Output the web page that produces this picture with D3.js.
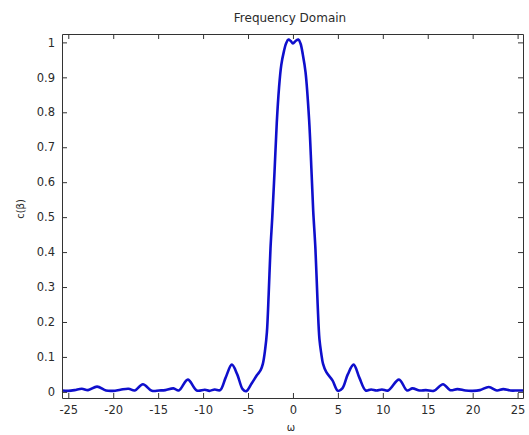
<!DOCTYPE html>
<html>
<head>
<meta charset="utf-8">
<script src="https://cdn.jsdelivr.net/npm/d3@7"></script>
<style>
  html, body { margin: 0; padding: 0; background: #fff; }
  svg { display: block; font-family: "DejaVu Sans", sans-serif; }
  .axis text { fill: #2b2b2b; font-size: 11.5px; font-family: "DejaVu Sans", sans-serif; }
</style>
</head>
<body>
<div id="chart"></div>
<script>
const title = "Frequency Domain";
const xLabel = "ω";
const yLabel = "c(β)";
const xTicks = [-25, -20, -15, -10, -5, 0, 5, 10, 15, 20, 25];
const yTicks = [0, 0.1, 0.2, 0.3, 0.4, 0.5, 0.6, 0.7, 0.8, 0.9, 1];

// spectrum magnitude
const omega = [
  -25.7, -25.0, -24.3, -23.5, -22.8, -21.8, -20.8, -20.0, -19.2, -18.3, -17.6,
  -16.7, -15.7, -14.9, -14.2, -13.3, -12.7, -11.7, -10.7, -9.8, -9.3, -8.7,
  -8.1, -7.5, -6.8, -6.2, -5.6, -5.2, -4.6, -4.0, -3.6, -3.35, -3.1, -2.9,
  -2.7, -2.5, -2.3, -2.05, -1.8, -1.55, -1.3, -1.0, -0.75, -0.5, -0.25, 0,
  0.3, 0.6, 0.85, 1.1, 1.4, 1.8, 2.05, 2.25, 2.5, 2.75, 2.95, 3.15, 3.35,
  3.7, 4.4, 5.0, 5.5, 6.1, 6.75, 7.4, 8.1, 8.7, 9.3, 9.9, 10.6, 11.8, 12.7,
  13.3, 14.1, 14.8, 15.7, 16.7, 17.5, 18.3, 19.2, 20.0, 20.8, 21.8, 22.7,
  23.4, 24.2, 25.0, 25.6
];
const magnitude = [
  0.004, 0.003, 0.005, 0.009, 0.005, 0.015, 0.004, 0.003, 0.006, 0.009, 0.004,
  0.022, 0.003, 0.004, 0.005, 0.010, 0.004, 0.035, 0.004, 0.006, 0.003, 0.007,
  0.005, 0.040, 0.078, 0.050, 0.008, 0.002, 0.024, 0.048, 0.062, 0.080, 0.120, 0.170,
  0.280, 0.410, 0.500, 0.630, 0.770, 0.870, 0.935, 0.975, 0.998, 1.008, 1.004, 0.997,
  1.004, 1.008, 0.996, 0.965, 0.915, 0.778, 0.640, 0.520, 0.410, 0.250, 0.150, 0.110, 0.080,
  0.057, 0.033, 0.003, 0.010, 0.050, 0.078, 0.040, 0.004, 0.007, 0.004, 0.007, 0.004, 0.035, 0.004,
  0.010, 0.004, 0.005, 0.003, 0.022, 0.005, 0.008, 0.004, 0.003, 0.005, 0.014, 0.004,
  0.008, 0.004, 0.004, 0.004
];

const width = 529;
const height = 435;
const marginTop = 34;
const marginRight = 6;
const marginBottom = 37;
const marginLeft = 62;
const tickLength = 5;

const x = d3.scaleLinear()
  .domain([-25.7, 25.6])
  .range([marginLeft, width - marginRight]);

const y = d3.scaleLinear()
  .domain([-0.0175, 1.024])
  .range([height - marginBottom, marginTop]);

const svg = d3.select("#chart")
  .append("svg")
  .attr("width", width)
  .attr("height", height)
  .attr("viewBox", [0, 0, width, height]);

const line = d3.line()
  .x((d, i) => x(omega[i]))
  .y((d) => y(d))
  .curve(d3.curveCatmullRom.alpha(0.5));

svg.append("path")
  .datum(magnitude)
  .attr("fill", "none")
  .attr("stroke", "#0f0fcc")
  .attr("stroke-width", 2.6)
  .attr("stroke-linejoin", "round")
  .attr("d", line);

// box with inward ticks on all four sides, matlab style
const axisStyle = (g) => g
  .call((g) => g.select(".domain").attr("stroke", "#333"))
  .call((g) => g.selectAll(".tick line").attr("stroke", "#333"));

// plain hyphen for negatives, like the original
const fmt = (d) => String(+d.toFixed(1));

svg.append("g")
  .attr("class", "axis")
  .attr("transform", `translate(0,${height - marginBottom})`)
  .call(d3.axisBottom(x).tickValues(xTicks).tickSizeInner(-tickLength)
    .tickSizeOuter(0).tickPadding(8).tickFormat(fmt))
  .call(axisStyle);

svg.append("g")
  .attr("class", "axis")
  .attr("transform", `translate(0,${marginTop})`)
  .call(d3.axisTop(x).tickValues(xTicks).tickSizeInner(-tickLength)
    .tickSizeOuter(0).tickFormat(""))
  .call(axisStyle);

svg.append("g")
  .attr("class", "axis")
  .attr("transform", `translate(${marginLeft},0)`)
  .call(d3.axisLeft(y).tickValues(yTicks).tickSizeInner(-tickLength)
    .tickSizeOuter(0).tickPadding(7).tickFormat(fmt))
  .call(axisStyle);

svg.append("g")
  .attr("class", "axis")
  .attr("transform", `translate(${width - marginRight},0)`)
  .call(d3.axisRight(y).tickValues(yTicks).tickSizeInner(-tickLength)
    .tickSizeOuter(0).tickFormat(""))
  .call(axisStyle);

svg.append("text")
  .attr("x", 290)
  .attr("y", 22)
  .attr("text-anchor", "middle")
  .attr("fill", "#2b2b2b")
  .attr("font-size", 12)
  .text(title);

svg.append("text")
  .attr("x", 291)
  .attr("y", 431)
  .attr("text-anchor", "middle")
  .attr("fill", "#2b2b2b")
  .attr("font-size", 10)
  .text(xLabel);

svg.append("text")
  .attr("transform", "translate(24,209) rotate(-90)")
  .attr("text-anchor", "middle")
  .attr("fill", "#2b2b2b")
  .attr("font-size", 10)
  .text(yLabel);
</script>
</body>
</html>
